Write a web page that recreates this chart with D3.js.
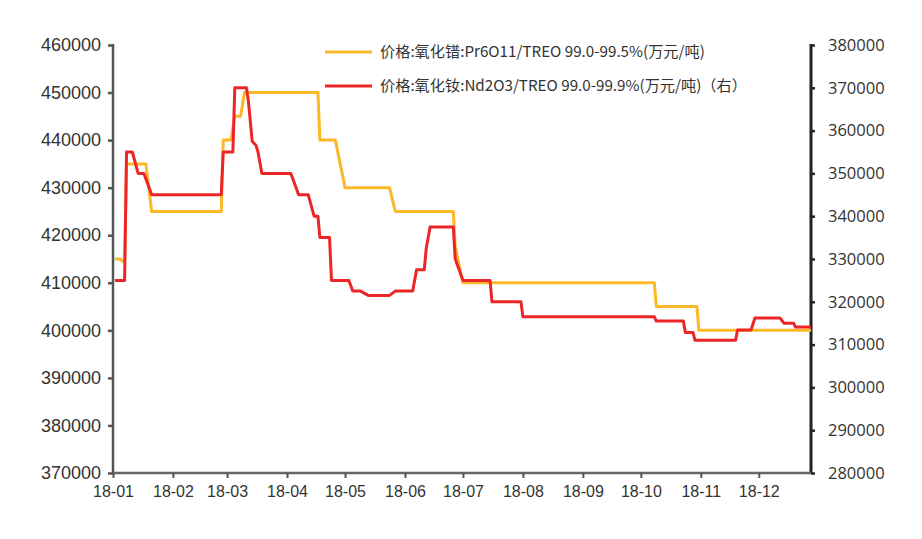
<!DOCTYPE html>
<html>
<head>
<meta charset="utf-8">
<script src="https://cdn.jsdelivr.net/npm/d3@7"></script>
<style>
  html, body { margin: 0; padding: 0; background: #fff; }
  svg { display: block; }
</style>
</head>
<body>
<svg id="chart" width="922" height="539"></svg>
<script>
// ---- data ----
const seriesNames = [
  "价格:氧化镨:Pr6O11/TREO 99.0-99.5%(万元/吨)",
  "价格:氧化钕:Nd2O3/TREO 99.0-99.9%(万元/吨)（右）"
];
// Pr6O11 price (left axis)
const prDates = ["2018-01-02","2018-01-05","2018-01-06","2018-01-07","2018-01-08","2018-01-18","2018-01-21","2018-02-26","2018-02-27","2018-03-03","2018-03-05","2018-03-08","2018-03-10","2018-04-17","2018-04-18","2018-04-26","2018-05-01","2018-05-24","2018-05-27","2018-06-26","2018-06-27","2018-07-01","2018-10-08","2018-10-09","2018-10-30","2018-10-31","2018-12-28"];
const prValues = [415000,415000,414500,414500,435000,435000,425000,425000,440000,440000,445000,445000,450000,450000,440000,440000,430000,430000,425000,425000,417500,410000,410000,405000,405000,400000,400000];
// Nd2O3 price (right axis)
const ndDates = ["2018-01-02","2018-01-07","2018-01-08","2018-01-11","2018-01-14","2018-01-17","2018-01-21","2018-02-26","2018-02-27","2018-03-04","2018-03-05","2018-03-11","2018-03-12","2018-03-14","2018-03-16","2018-03-17","2018-03-19","2018-04-03","2018-04-07","2018-04-12","2018-04-15","2018-04-17","2018-04-18","2018-04-23","2018-04-24","2018-05-03","2018-05-05","2018-05-09","2018-05-13","2018-05-24","2018-05-27","2018-06-05","2018-06-07","2018-06-11","2018-06-12","2018-06-14","2018-06-26","2018-06-27","2018-07-01","2018-07-15","2018-07-16","2018-07-31","2018-08-01","2018-10-08","2018-10-09","2018-10-23","2018-10-24","2018-10-28","2018-10-29","2018-11-19","2018-11-20","2018-11-27","2018-11-29","2018-12-12","2018-12-14","2018-12-19","2018-12-20","2018-12-28"];
const ndValues = [325000,325000,355000,355000,350000,350000,345000,345000,355000,355000,370000,370000,367000,357500,356500,355000,350000,350000,345000,345000,340000,340000,335000,335000,325000,325000,322500,322500,321500,321500,322500,322500,327500,327500,332500,337500,337500,330000,325000,325000,320000,320000,316500,316500,315500,315500,312800,312800,311000,311000,313400,313400,316200,316200,315000,315000,314100,314100];
const leftTicks = [370000,380000,390000,400000,410000,420000,430000,440000,450000,460000];
const rightTicks = [280000,290000,300000,310000,320000,330000,340000,350000,360000,370000,380000];
const xTickLabels = ["18-01","18-02","18-03","18-04","18-05","18-06","18-07","18-08","18-09","18-10","18-11","18-12"];
const xStart = "2018-01-01", xEnd = "2018-12-28";

// ---- layout ----
const parse = d3.timeParse("%Y-%m-%d");
const L = 113, R = 811, T = 45, B = 473;
const colors = ["#FBB829", "#EC2527"];

const svg = d3.select("#chart");
const x = d3.scaleTime().domain([parse(xStart), parse(xEnd)]).range([L, R]);
const yL = d3.scaleLinear().domain([370000, 460000]).range([B, T]);
const yR = d3.scaleLinear().domain([280000, 380000]).range([B, T]);

const pr = prDates.map((d, i) => ({ date: parse(d), v: prValues[i] }));
const nd = ndDates.map((d, i) => ({ date: parse(d), v: ndValues[i] }));

// left axis
const gL = svg.append("g").attr("transform", `translate(${L},0)`)
  .call(d3.axisLeft(yL).tickValues(leftTicks).tickFormat(d3.format("d")).tickSize(5).tickPadding(7));
gL.select(".domain").attr("stroke", "#555").attr("stroke-width", 2.5).attr("d", `M0,${T-1}V${B}`);
gL.selectAll(".tick line").attr("stroke", "#555").attr("stroke-width", 2.5);
gL.selectAll(".tick text").attr("font-family", "'Liberation Sans', Arial, sans-serif")
  .attr("font-size", 18).attr("fill", "#333");

// right axis
const gR = svg.append("g").attr("transform", `translate(${R},0)`)
  .call(d3.axisRight(yR).tickValues(rightTicks).tickFormat(d3.format("d")).tickSize(4).tickPadding(13));
gR.select(".domain").attr("stroke", "#222").attr("stroke-width", 3).attr("d", `M0,${T-1}V${B}`);
gR.selectAll(".tick line").attr("stroke", "#222").attr("stroke-width", 2.5);
gR.selectAll(".tick text").attr("font-family", "'Open Sans', sans-serif")
  .attr("font-size", 16.5).attr("fill", "#333");

// bottom axis
const monthTicks = d3.timeMonth.range(parse(xStart), parse("2018-12-02"));
const gB = svg.append("g").attr("transform", `translate(0,${B})`)
  .call(d3.axisBottom(x).tickValues(monthTicks).tickFormat((d, i) => xTickLabels[i]).tickSize(5).tickPadding(8));
gB.select(".domain").attr("stroke", "#666").attr("stroke-width", 2.5).attr("d", `M${L},0H${R}`);
gB.selectAll(".tick line").attr("stroke", "#555").attr("stroke-width", 2);
gB.selectAll(".tick text").attr("font-family", "'Liberation Sans', Arial, sans-serif")
  .attr("font-size", 16).attr("fill", "#333");

// lines
const lineL = d3.line().x(d => x(d.date)).y(d => yL(d.v));
const lineR = d3.line().x(d => x(d.date)).y(d => yR(d.v));
svg.append("path").datum(pr).attr("d", lineL).attr("fill", "none")
  .attr("stroke", colors[0]).attr("stroke-width", 3).attr("stroke-linejoin", "round");
svg.append("path").datum(nd).attr("d", lineR).attr("fill", "none")
  .attr("stroke", colors[1]).attr("stroke-width", 3).attr("stroke-linejoin", "round");

// legend
const legend = svg.append("g");
seriesNames.forEach((name, i) => {
  const yy = 52 + i * 34;
  legend.append("line").attr("x1", 325).attr("x2", 372).attr("y1", yy).attr("y2", yy)
    .attr("stroke", colors[i]).attr("stroke-width", 3);
  legend.append("text").attr("x", 380).attr("y", yy).attr("dy", "0.35em")
    .attr("font-family", "'Noto Sans CJK SC', sans-serif").attr("font-size", 15.2)
    .attr("fill", "#333").text(name);
});
</script>
</body>
</html>
